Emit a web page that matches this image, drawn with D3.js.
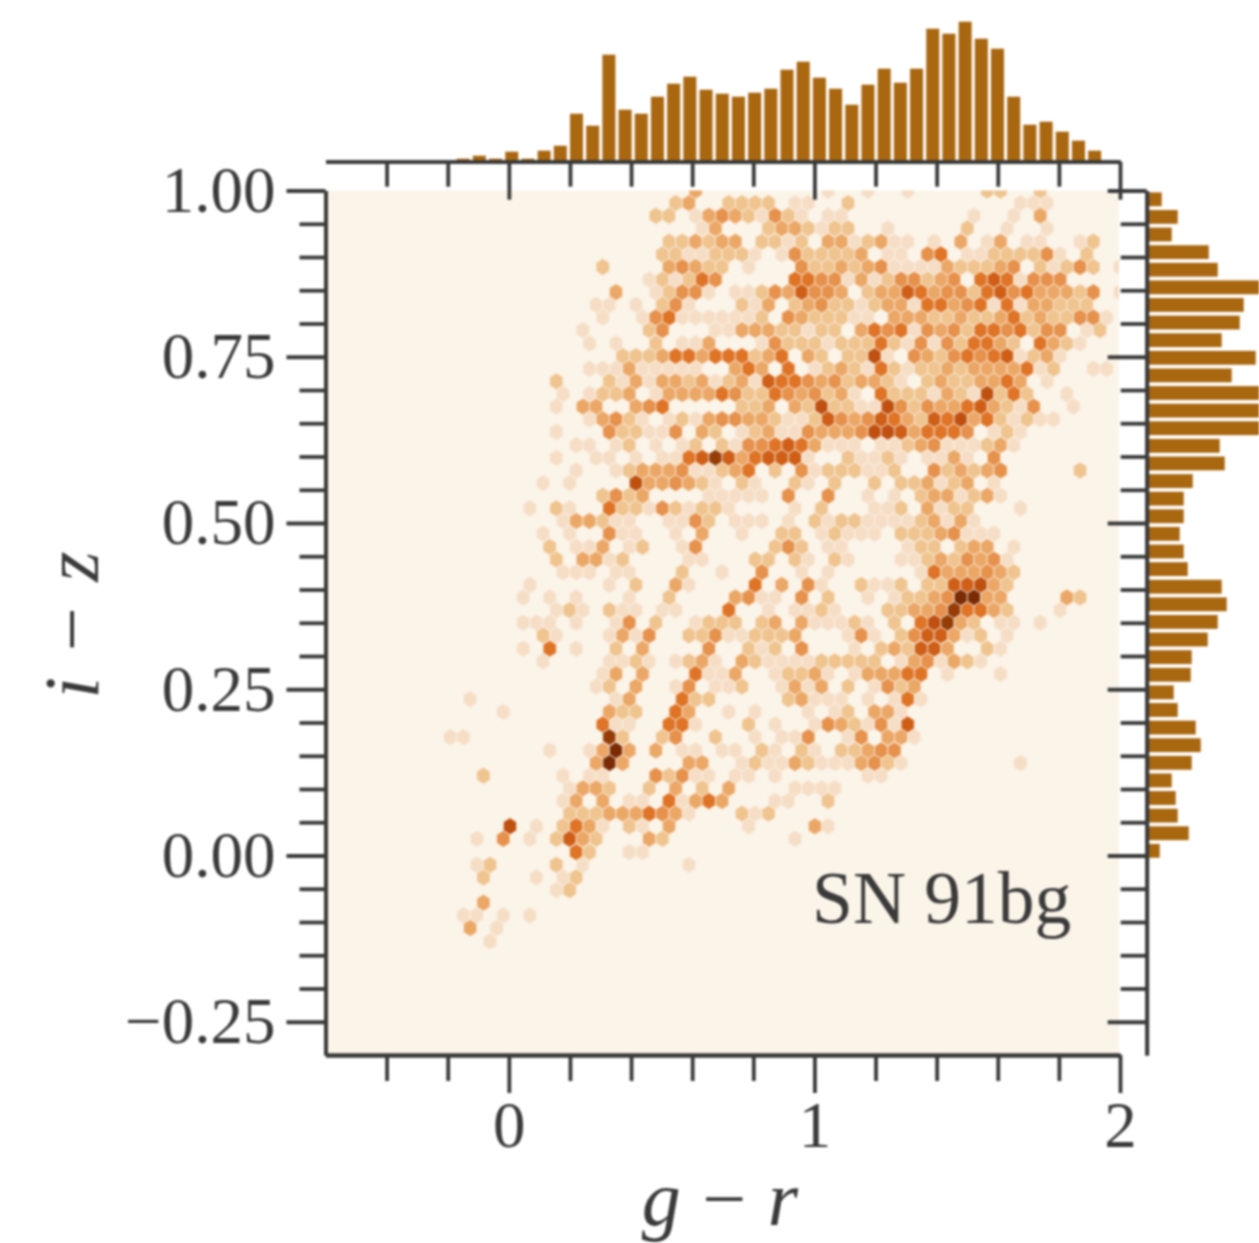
<!DOCTYPE html>
<html>
<head>
<meta charset="utf-8">
<title>SN 91bg</title>
<script src="https://cdn.jsdelivr.net/npm/d3@7"></script>
<style>
  html, body { margin: 0; padding: 0; background: #fff; }
  svg { display: block; filter: blur(1px); }
  text { font-family: "Liberation Serif", serif; fill: #3a3a3a; }
</style>
</head>
<body>
<div id="chart"></div>
<script>
// i-z value of each hexagon row, top to bottom
const hexIZ = [1.000, .981, .962, .943, .923, .904, .885, .866, .847, .828, .809, .790, .770, .751, .732,
  .713, .694, .675, .656, .637, .617, .598, .579, .560, .541, .522, .503, .484, .464, .445, .426, .407,
  .388, .369, .350, .331, .311, .292, .273, .254, .235, .216, .197, .178, .158, .139, .120, .101, .082,
  .063, .044, .025, .005, -.014, -.033, -.052, -.071, -.090, -.109, -.129];

// hexagon cells per row, "column:counts" (a run of counts starts at that column)
const hexRows = [
  "19:3 29:1 32:1 35:1 41:22 45:2",
  "17:23 21:2222 26:11 30:2 43:111",
  "16:22 19:134321421 29:11 40:1 43:1 45:3",
  "19:13 24:2332122 33:1 39:2 42:1 45:1",
  "17:223233 24:2212 29:3312311 37:1 39:3 41:13 44:11 48:12",
  "16:22112221 25:1422223 33:11 36:45 39:11222241 48:2",
  "12:2 17:34322 23:1 27:42232341111322234 45:21242 51:1",
  "15:121254 26:5544131244234 40:5651444",
  "13:3 16:12441 22:112436443 32:233653442564533324 51:1",
  "11:11 14:1 16:241 22:213 26:23422123315534515133222",
  "12:1 15:1451111112 26:4322211 34:33322322352322441",
  "10:1 15:24 20:1133322122 31:3545143425545244 48:12",
  "11:1 13:1 16:2 18:113 24:14222122252141425532 45:5321",
  "13:2223553555235 27:32 30:2271 35:432454561231",
  "11:111311111 22:353 26:5 28:1232152122323333512 49:11",
  "8:2 12:21313323123165543423321 36:23223353 45:1",
  "9:1 11:1223 16:1333354225434231 33:522213217252 47:1",
  "8:1 10:33 14:345 22:223 26:3272211742433563214 47:1",
  "11:13421 17:121344332112643465326573521211",
  "8:1 12:422114 19:32 22:123114333477635554 41:121",
  "10:11 13:12 16:1 18:12 21:21445653111 33:11234111231",
  "8:1 11:11 14:1 16:115686356661 30:21121 36:1131 41:4",
  "10:1 13:12333411235 25:2 27:41222112 37:423234 48:2",
  "7:1 9:1 14:7334321 22:21 26:21 29:2 32:2 34:223123 41:1",
  "12:2423 20:11111 26:4 29:4 32:1 34:1 36:2331231",
  "6:1 8:21 12:5221421221 26:1 28:2 32:112 36:3122 43:1",
  "9:133211 17:1142 22:111 26:1 28:2122111123131",
  "7:1 9:1 12:411 17:1 19:3 22:1 25:22 28:12111 34:22234111",
  "8:2 10:113 14:12 18:14 25:242 29:11 35:122 39:233 43:1",
  "8:2 10:3312 18:11 23:22 26:21 29:21 34:112324341",
  "9:111 13:11 18:2 21:1 24:4 27:1 29:1 36:15333432",
  "6:1 12:1 14:2 17:31 23:5 25:3 27:41 31:2112 36:2266732",
  "6:1 8:1 10:1 14:1 17:2 22:3411 27:4 29:2 32:1 34:122349933 47:32",
  "8:121 12:211 16:11 21:5 24:1 26:1121 33:2233485532 46:1",
  "6:111 10:1 13:14 16:2 19:1222 24:23 27:311121 34:2 36:57832 42:11 45:1",
  "7:21 12:1314 18:224112223 30:141 34:2466312 42:1",
  "6:1 8:5 10:1 13:2 15:3 20:4 23:212 27:4 31:1 33:232663 41:21",
  "7:1 12:1121 17:1231 22:32111122222 34:1341321",
  "12:13 15:3 19:5113 25:12231 31:133355 38:1 42:1",
  "11:12 14:3 17:14 20:112 25:1313 30:2 32:1423",
  "2:1 13:13 18:522 26:23111 32:1 34:151",
  "4:1 12:322 17:53 21:1 23:1 27:1 29:12 32:331",
  "12:511 17:551 23:2 25:1 28:14321416",
  "0:11 12:82 16:24 20:2 23:1 25:114 30:14 33:331",
  "8:1 11:1393 16:3 18:11 21:11 24:21 27:21 30:22344",
  "11:393 18:33 22:1211321113421 43:1",
  "3:2 9:1 11:11 16:42411 22:11 25:1 32:11",
  "9:1332 15:2 17:3 19:2 21:3 26:1111",
  "9:13 12:3 14:11 17:51353 25:11 29:2",
  "9:2223335431 22:212",
  "5:7 7:1 9:2531 14:21 17:3 23:1 28:31",
  "2:1 4:4 6:1 8:2632 15:32 26:1",
  "10:52 14:11",
  "2:12 8:2 10:1 18:1",
  "3:2 7:1 9:12",
  "8:12",
  "3:3",
  "1:11 4:1 6:1",
  "2:3 4:1",
  "3:1"
];
const hexGRStart = -0.2134;
const hexGRStep = 0.04339;

const hexLevels = [1, 2, 3, 4, 5, 6, 7, 8, 9];
const hexColors = ['#f6dec6', '#efc48f', '#eba766', '#e6914c', '#df7426', '#cf5f17', '#bf500f', '#953c07', '#7a2b04'];

// marginal histograms, bar counts
const histGRStart = -0.176;
const histGRStep = 0.05299;
const histGR = [3, 6, 3, 10, 3, 11, 16, 48, 36, 107, 52, 48, 65, 78, 85, 72, 68, 65, 69, 73, 92, 100, 84, 73,
  57, 77, 93, 79, 93, 133, 128, 140, 123, 113, 65, 37, 40, 30, 21, 11];
const histIZStart = 1.0;
const histIZStep = 0.02648;
const histIZ = [14, 30, 24, 61, 70, 116, 96, 92, 74, 108, 84, 122, 125, 118, 72, 77, 45, 36, 36,
  32, 36, 40, 74, 79, 70, 60, 44, 43, 26, 30, 48, 53, 44, 24, 28, 30, 41, 12];

// ticks and labels
const xMajor = [0, 1, 2];
const xMajorLabels = ['0', '1', '2'];
const xMinor = [-0.4, -0.2, 0.2, 0.4, 0.6, 0.8, 1.2, 1.4, 1.6, 1.8];
const yMajor = [-0.25, 0, 0.25, 0.5, 0.75, 1];
const yMajorLabels = ['\u22120.25', '0.00', '0.25', '0.50', '0.75', '1.00'];
const yMinor = [-0.2, -0.15, -0.1, -0.05, 0.05, 0.1, 0.15, 0.2, 0.3, 0.35, 0.4, 0.45, 0.55, 0.6, 0.65, 0.7,
  0.8, 0.85, 0.9, 0.95];

const width = 1259;
const height = 1243;
const axisColor = '#3a3a3a';

const x = d3.scaleLinear().domain([-0.6, 2]).range([325.5, 1120]);
const y = d3.scaleLinear().domain([-0.3, 1]).range([1055, 190.5]);
const histTop = d3.scaleLinear().domain([0, 140]).range([161.7, 21.7]);
const histRight = d3.scaleLinear().domain([0, 112]).range([1147.7, 1259.7]);
const colorScale = d3.scaleLinear().domain(hexLevels).range(hexColors);

const svg = d3.select('#chart').append('svg')
  .attr('width', width)
  .attr('height', height)
  .attr('viewBox', `0 0 ${width} ${height}`);

svg.append('defs').append('clipPath').attr('id', 'plot-clip')
  .append('rect')
  .attr('x', x(-0.6))
  .attr('y', y(1))
  .attr('width', x(2) - x(-0.6) - 1)
  .attr('height', y(-0.3) - y(1));

svg.append('rect')
  .attr('x', x(-0.6))
  .attr('y', y(1))
  .attr('width', x(2) - x(-0.6) - 1)
  .attr('height', y(-0.3) - y(1))
  .attr('fill', '#fbf4e9');

// unpack the row strings into cells
const cells = [];
hexRows.forEach((row, r) => {
  row.split(' ').forEach(token => {
    const [start, counts] = token.split(':');
    counts.split('').forEach((c, i) => {
      cells.push({
        gr: hexGRStart + (+start + i + (r % 2 ? 0.5 : 0)) * hexGRStep,
        iz: hexIZ[r],
        count: +c
      });
    });
  });
});

// pointy top hexagon in data units, stretched like matplotlib's hexbin
const halfW = (x(hexGRStep) - x(0)) / 2;
const radius = (y(hexIZ[1]) - y(hexIZ[0])) * 2 / 3;
const hexPath = d => {
  const cx = x(d.gr), cy = y(d.iz);
  return d3.line()([
    [cx, cy - radius], [cx + halfW, cy - radius / 2], [cx + halfW, cy + radius / 2],
    [cx, cy + radius], [cx - halfW, cy + radius / 2], [cx - halfW, cy - radius / 2]
  ]) + 'Z';
};

svg.append('g')
  .attr('clip-path', 'url(#plot-clip)')
  .selectAll('path')
  .data(cells)
  .enter()
  .append('path')
  .attr('d', hexPath)
  .attr('fill', d => colorScale(d.count))
  .attr('stroke', '#fbf4e9')
  .attr('stroke-width', 0.7);

// top histogram
svg.append('g')
  .selectAll('rect')
  .data(histGR)
  .enter()
  .append('rect')
  .attr('x', (d, i) => x(histGRStart + i * histGRStep) + 1.6)
  .attr('y', d => histTop(d))
  .attr('width', x(histGRStep) - x(0) - 3.2)
  .attr('height', d => histTop(0) - histTop(d))
  .attr('fill', '#a96710');

// right histogram
svg.append('g')
  .selectAll('rect')
  .data(histIZ)
  .enter()
  .append('rect')
  .attr('x', histRight(0))
  .attr('y', (d, i) => y(histIZStart - i * histIZStep) + 1.9)
  .attr('width', d => histRight(d) - histRight(0))
  .attr('height', y(0) - y(histIZStep) - 3.8)
  .attr('fill', '#a96710');

function styleAxis(g) {
  g.selectAll('path, line').attr('stroke', axisColor).attr('stroke-width', 3.8);
  g.selectAll('text')
    .style('font-size', '65px')
    .attr('fill', axisColor);
}

// main axes
svg.append('g')
  .attr('transform', `translate(0,${y(-0.3)})`)
  .call(d3.axisBottom(x).tickValues(xMinor).tickSize(26).tickSizeOuter(0).tickFormat(''))
  .call(styleAxis);
svg.append('g')
  .attr('transform', `translate(0,${y(-0.3)})`)
  .call(d3.axisBottom(x).tickValues(xMajor).tickSize(38).tickSizeOuter(0).tickPadding(8)
    .tickFormat((d, i) => xMajorLabels[i]))
  .call(styleAxis);
svg.append('g')
  .attr('transform', `translate(${x(-0.6)},0)`)
  .call(d3.axisLeft(y).tickValues(yMinor).tickSize(26).tickSizeOuter(0).tickFormat(''))
  .call(styleAxis);
svg.append('g')
  .attr('transform', `translate(${x(-0.6)},0)`)
  .call(d3.axisLeft(y).tickValues(yMajor).tickSize(39).tickSizeOuter(0).tickPadding(11)
    .tickFormat((d, i) => yMajorLabels[i]))
  .call(styleAxis)
  .selectAll('text').attr('dy', '0.32em');

// marginal axes, unlabeled
svg.append('g')
  .attr('transform', `translate(0,${histTop(0)})`)
  .call(d3.axisBottom(x).tickValues(xMinor).tickSize(25).tickSizeOuter(0).tickFormat(''))
  .call(styleAxis);
svg.append('g')
  .attr('transform', `translate(0,${histTop(0)})`)
  .call(d3.axisBottom(x).tickValues(xMajor).tickSize(38).tickSizeOuter(0).tickFormat(''))
  .call(styleAxis);
svg.append('g')
  .attr('transform', `translate(${histRight(0) - 1},0)`)
  .call(d3.axisLeft(y).tickValues(yMinor).tickSize(26).tickSizeOuter(0).tickFormat(''))
  .call(styleAxis);
svg.append('g')
  .attr('transform', `translate(${histRight(0) - 1},0)`)
  .call(d3.axisLeft(y).tickValues(yMajor).tickSize(39).tickSizeOuter(0).tickFormat(''))
  .call(styleAxis);

// axis titles and panel label
const xTitle = svg.append('text')
  .attr('x', 720)
  .attr('y', 1225)
  .attr('text-anchor', 'middle')
  .style('font-size', '78px')
  .style('word-spacing', '2px');
xTitle.append('tspan').style('font-style', 'italic').text('g');
xTitle.append('tspan').text(' \u2212 ');
xTitle.append('tspan').style('font-style', 'italic').text('r');

const yTitle = svg.append('text')
  .attr('transform', 'translate(98,625) rotate(-90)')
  .attr('text-anchor', 'middle')
  .style('font-size', '78px')
  .style('word-spacing', '6px');
yTitle.append('tspan').style('font-style', 'italic').text('i');
yTitle.append('tspan').text(' \u2212 ');
yTitle.append('tspan').style('font-style', 'italic').text('z');

svg.append('text')
  .attr('x', 812)
  .attr('y', 923)
  .style('font-size', '73.5px')
  .text('SN 91bg');
</script>
</body>
</html>
